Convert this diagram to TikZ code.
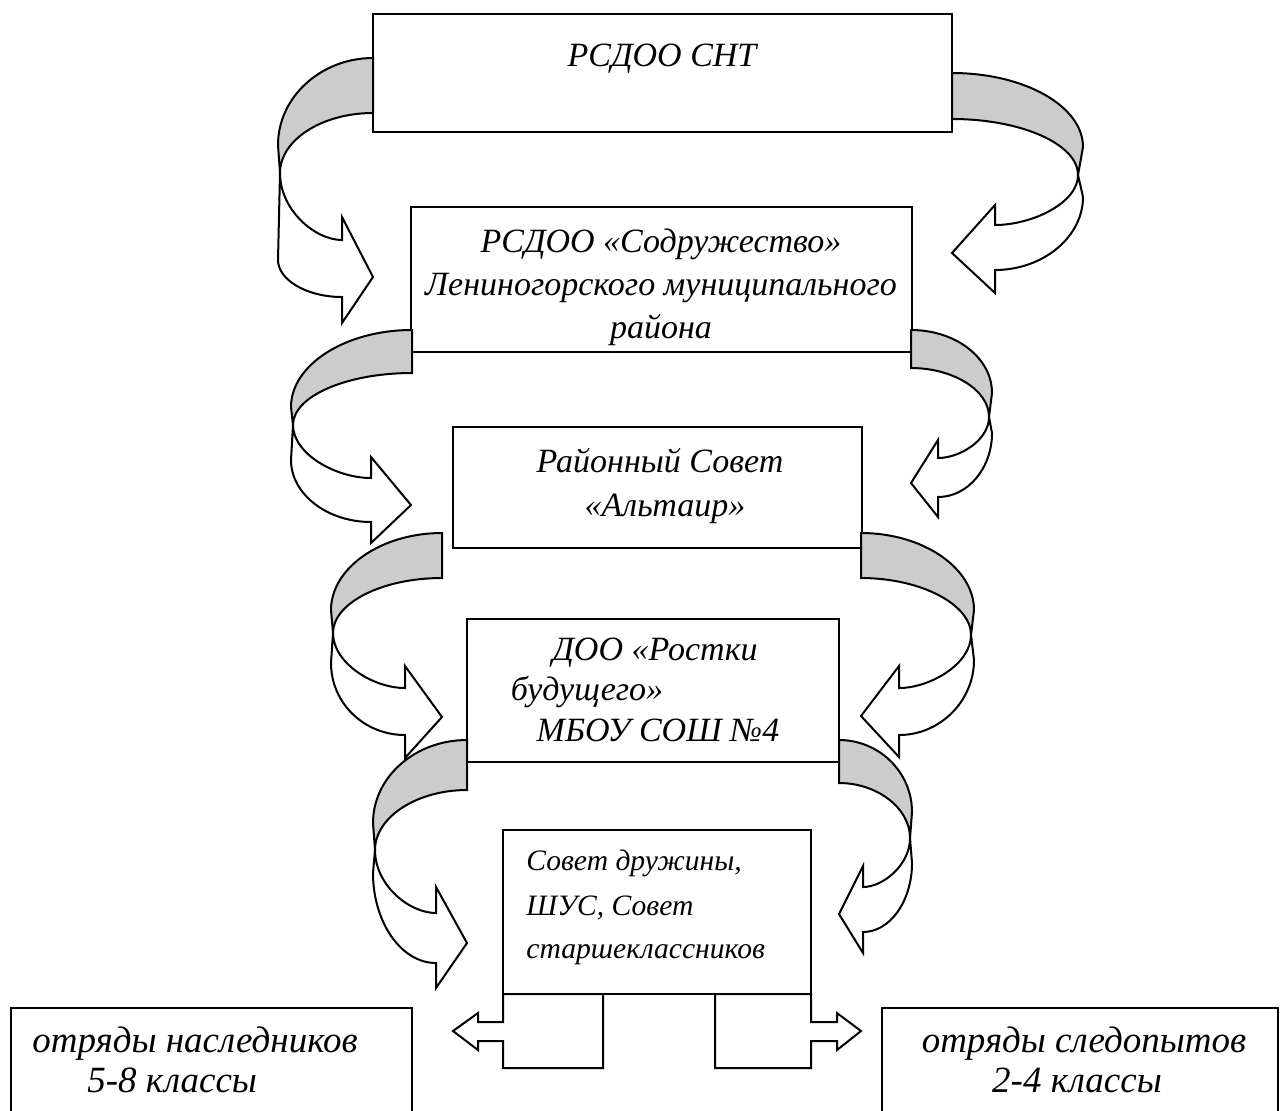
\documentclass[tikz,border=0pt]{standalone}
\usepackage{fontspec}
\setmainfont{Liberation Serif}
\definecolor{bandgray}{RGB}{204,204,204}
\tikzset{
  box/.style={draw, line width=1pt, fill=white, inner sep=0pt, outer sep=0pt, anchor=north west},
  lbl/.style={font=\fontsize{17}{20}\selectfont\itshape, inner sep=0pt, anchor=base},
  lblw/.style={lbl, anchor=base west},
  small/.style={font=\fontsize{14.8}{18}\selectfont\itshape},
  big/.style={font=\fontsize{18.5}{20}\selectfont\itshape},
  back/.style={draw, line width=1pt, fill=bandgray},
  front/.style={draw, line width=1pt, fill=white}
}
\begin{document}
\begin{tikzpicture}[x=0.5pt, y=-0.5pt]
      \useasboundingbox (0,0) rectangle (1288,1110);

      % boxes
      \node[box, minimum width=289.5pt, minimum height=59pt] (snt) at (373,14) {};
      \node[box, minimum width=250.5pt, minimum height=72.5pt] (sodr) at (411,207) {};
      \node[box, minimum width=204.5pt, minimum height=60.5pt] (altair) at (453,427) {};
      \node[box, minimum width=186pt, minimum height=71.5pt] (rostki) at (467,619) {};
      \node[box, minimum width=154pt, minimum height=82pt] (druzh) at (503,830) {};
      \node[box, minimum width=200.5pt, minimum height=61pt] (nasl) at (11,1008) {};
      \node[box, minimum width=198pt, minimum height=61pt] (sled) at (882,1008) {};

      % curved arrows, left side
      \draw[back] (373,58) .. controls (321,58) and (278,97) .. (278,145) -- (280,173) .. controls (280,140) and (322,113) .. (373,113) -- cycle;
      \draw[front] (280,173) .. controls (280,210) and (315,240) .. (342,240) -- (342,217) -- (373,277) -- (342,323) -- (342,297) .. controls (307,297) and (278,280) .. (278,260) -- cycle;

      \draw[back] (952,73) .. controls (1024,73) and (1083,106) .. (1083,147) -- (1078,175) .. controls (1078,144) and (1021,119) .. (952,119) -- cycle;
      \draw[front] (1078,175) .. controls (1078,203) and (1032,225) .. (995,225) -- (995,205) -- (952,253) -- (995,293) -- (995,270) .. controls (1043,270) and (1083,237) .. (1083,197) -- cycle;

      \draw[back] (412,330) .. controls (345,330) and (291,365) .. (291,407) -- (293,425) .. controls (293,396) and (347,373) .. (412,373) -- cycle;
      \draw[front] (293,425) .. controls (293,454) and (336,478) .. (371,478) -- (371,457) -- (411,505) -- (371,543) -- (371,522) .. controls (327,522) and (291,494) .. (291,460) -- cycle;

      \draw[back] (911,330) .. controls (956,330) and (992,358) .. (992,393) -- (989,417) .. controls (989,390) and (953,368) .. (911,368) -- cycle;
      \draw[front] (989,417) .. controls (989,440) and (960,458) .. (938,458) -- (938,440) -- (911,483) -- (938,517) -- (938,497) .. controls (968,497) and (992,468) .. (992,433) -- cycle;

      \draw[back] (442,533) .. controls (381,533) and (331,568) .. (331,610) -- (333,633) .. controls (333,603) and (382,578) .. (442,578) -- cycle;
      \draw[front] (333,633) .. controls (333,663) and (373,688) .. (405,688) -- (405,666) -- (442,717) -- (405,758) -- (405,735) .. controls (364,735) and (331,703) .. (331,663) -- cycle;

      \draw[back] (861,533) .. controls (923,533) and (974,568) .. (974,610) -- (971,635) .. controls (971,604) and (920,578) .. (861,578) -- cycle;
      \draw[front] (971,635) .. controls (971,664) and (930,688) .. (899,688) -- (899,666) -- (861,716) -- (899,757) -- (899,735) .. controls (940,735) and (974,701) .. (974,660) -- cycle;

      \draw[back] (467,740) .. controls (415,740) and (373,777) .. (373,823) -- (375,850) .. controls (375,817) and (417,790) .. (467,790) -- cycle;
      \draw[front] (375,850) .. controls (375,885) and (409,913) .. (436,913) -- (436,887) -- (467,943) -- (436,988) -- (436,963) .. controls (401,963) and (373,922) .. (373,873) -- cycle;

      \draw[back] (839,740) .. controls (879,740) and (912,772) .. (912,812) -- (910,838) .. controls (910,808) and (877,783) .. (839,783) -- cycle;
      \draw[front] (910,838) .. controls (910,865) and (883,887) .. (863,887) -- (863,866) -- (839,914) -- (863,953) -- (863,932) .. controls (890,932) and (912,901) .. (912,863) -- cycle;

      % callouts under the last box
      \draw[front] (603,994) -- (603,1068) -- (503,1068) -- (503,1041) -- (478,1041) -- (478,1050) -- (453,1031) -- (478,1013) -- (478,1022) -- (503,1022) -- (503,994) -- cycle;
      \draw[front] (715,994) -- (715,1068) -- (811,1068) -- (811,1041) -- (837,1041) -- (837,1050) -- (861,1031) -- (837,1013) -- (837,1022) -- (811,1022) -- (811,994) -- cycle;

      % texts
      \node[lbl] (t1) at (662,66) {РСДОО СНТ};
      \node[lbl] (t2a) at (661,252) {РСДОО «Содружество»};
      \node[lbl] (t2b) at (661,295) {Лениногорского муниципального};
      \node[lbl] (t2c) at (661,338) {района};
      \node[lbl] (t3a) at (660,472) {Районный Совет};
      \node[lbl] (t3b) at (665,516) {«Альтаир»};
      \node[lbl] (t4a) at (655,660) {ДОО «Ростки};
      \node[lbl] (t4b) at (587,700) {будущего»};
      \node[lbl] (t4c) at (658,741) {МБОУ СОШ №4};
      \node[lblw, small] (t5a) at (526,870) {Совет дружины,};
      \node[lblw, small] (t5b) at (526,915) {ШУС, Совет};
      \node[lblw, small] (t5c) at (526,958) {старшеклассников};
      \node[lblw, big] (t6a) at (32,1052) {отряды наследников};
      \node[lblw, big] (t6b) at (87,1092) {5-8 классы};
      \node[lbl, big] (t7a) at (1084,1052) {отряды следопытов};
      \node[lbl, big] (t7b) at (1077,1092) {2-4 классы};
\end{tikzpicture}
\end{document}
